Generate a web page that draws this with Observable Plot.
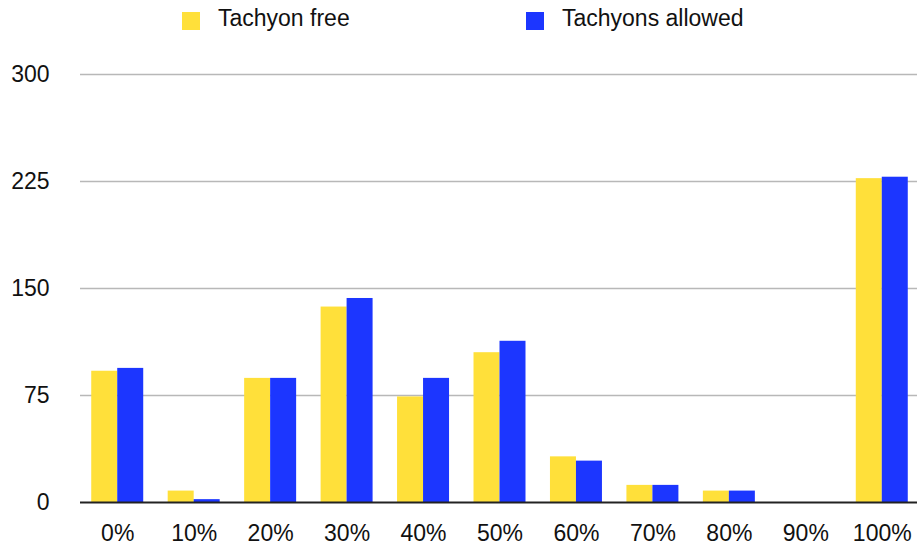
<!DOCTYPE html>
<html>
<head>
<meta charset="utf-8">
<script src="https://cdn.jsdelivr.net/npm/d3@7"></script>
<script src="https://cdn.jsdelivr.net/npm/@observablehq/plot@0.6"></script>
<style>
  html, body { margin: 0; padding: 0; background: #fff; }
  #wrap { position: relative; width: 917px; height: 550px; font-family: "Liberation Sans", Arial, Helvetica, sans-serif; }
  #legend { position: relative; height: 40px; }
  .item { position: absolute; top: 0; height: 40px; }
  .sw { position: absolute; top: 12px; width: 18px; height: 18px; }
  .lbl { position: absolute; top: 5px; font-size: 23px; color: #111; white-space: nowrap; line-height: 26px; }
</style>
</head>
<body>
<div id="wrap">
  <div id="legend"></div>
  <div id="chart"></div>
</div>
<script>
const categories = ["0%", "10%", "20%", "30%", "40%", "50%", "60%", "70%", "80%", "90%", "100%"];
const seriesNames = ["Tachyon free", "Tachyons allowed"];
const seriesColors = ["#FFE03A", "#1C36FF"];
const tachyonFree = [92, 8, 87, 137, 74, 105, 32, 12, 8, 0, 227];
const tachyonsAllowed = [94, 2, 87, 143, 87, 113, 29, 12, 8, 0, 228];
const yTicks = [0, 75, 150, 225, 300];

const freeData = categories.map((c, i) => ({cat: c, series: seriesNames[0], value: tachyonFree[i]}));
const allowedData = categories.map((c, i) => ({cat: c, series: seriesNames[1], value: tachyonsAllowed[i]}));

// legend
const legend = document.getElementById("legend");
const legendX = [182, 526];
seriesNames.forEach((name, i) => {
  const item = document.createElement("div");
  item.className = "item";
  item.style.left = legendX[i] + "px";
  item.innerHTML = `<div class="sw" style="left:0;background:${seriesColors[i]}"></div><div class="lbl" style="left:36px">${name}</div>`;
  legend.appendChild(item);
});

const W = 917, mL = 80, mR = 0;
const xRange = [79, 920];
const pIn = 0.32, pOut = 0.16;
const step = (xRange[1] - xRange[0]) / (categories.length - pIn + 2 * pOut);
const bandwidth = step * (1 - pIn);
const half = bandwidth / 2;

const chart = Plot.plot({
  width: W,
  height: 510,
  marginTop: 34,
  marginBottom: 48,
  marginLeft: mL,
  marginRight: mR,
  style: {fontFamily: '"Liberation Sans", Arial, Helvetica, sans-serif', fontSize: "23px", color: "#111", background: "#fff", overflow: "hidden"},
  x: {domain: categories, range: xRange, round: false, paddingInner: pIn, paddingOuter: pOut, label: null},
  y: {domain: [0, 300], ticks: yTicks, label: null},
  color: {domain: seriesNames, range: seriesColors},
  marks: [
    Plot.gridY(yTicks.filter(d => d > 0), {stroke: "#b8b8b8", strokeOpacity: 1, strokeWidth: 1.6}),
    Plot.axisX({tickSize: 0, tickPadding: 22, label: null, fontSize: 23}),
    Plot.axisY({ticks: yTicks, tickSize: 0, tickPadding: 31, label: null, fontSize: 23}),
    Plot.barY(freeData, {x: "cat", y: "value", fill: "series", insetRight: half}),
    Plot.barY(allowedData, {x: "cat", y: "value", fill: "series", insetLeft: half}),
    Plot.ruleY([0], {stroke: "#222", strokeWidth: 2})
  ]
});
document.getElementById("chart").appendChild(chart);
</script>
</body>
</html>
